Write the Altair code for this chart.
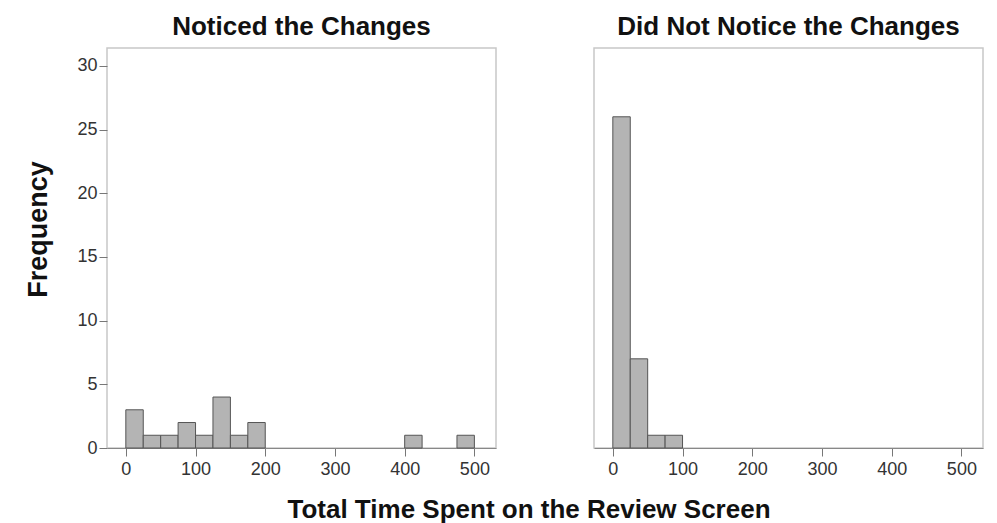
import altair as alt
import pandas as pd

bin_width = 25
noticed_bins = [0, 25, 50, 75, 100, 125, 150, 175, 400, 475]
noticed_counts = [3, 1, 1, 2, 1, 4, 1, 2, 1, 1]
not_noticed_bins = [0, 25, 50, 75]
not_noticed_counts = [26, 7, 1, 1]
x_ticks = [0, 100, 200, 300, 400, 500]
y_ticks = [0, 5, 10, 15, 20, 25, 30]
panel_titles = ["Noticed the Changes", "Did Not Notice the Changes"]
x_title = "Total Time Spent on the Review Screen"
y_title = "Frequency"

FONT = "Liberation Sans"
TITLE_SIZE = 26


def panel(bins, counts, title, show_y):
    df = pd.DataFrame({"start": bins, "count": counts})
    df["end"] = df["start"] + bin_width
    x_axis = alt.Axis(values=x_ticks, title=None, labelFontSize=18, labelColor="#333",
                      tickColor="#777", tickSize=8, domainColor="#888", labelPadding=4,
                      grid=False, labelFont=FONT, labelFlush=False)
    y_scale = alt.Scale(domain=[0, 31.4], nice=False, zero=True)
    if show_y:
        y_enc = alt.Y("count:Q", scale=y_scale,
                      axis=alt.Axis(values=y_ticks, title=y_title, labelFontSize=18, labelColor="#333",
                                    tickColor="#777", tickSize=8, domain=False, grid=False,
                                    titleFontSize=27, titleFont=FONT, titleFontWeight="bold",
                                    titleColor="#111", titlePadding=24, labelPadding=2,
                                    labelFont=FONT, titleY=181))
    else:
        y_enc = alt.Y("count:Q", scale=y_scale, axis=None)
    return alt.Chart(df).mark_bar(fill="#b4b4b4", stroke="#555", strokeWidth=1).encode(
        x=alt.X("start:Q", scale=alt.Scale(domain=[-27, 531], nice=False, zero=False), axis=x_axis),
        x2="end:Q",
        y=y_enc,
        y2=alt.datum(0),
    ).properties(
        width=389, height=400,
        title=alt.TitleParams(title, fontSize=TITLE_SIZE, font=FONT, fontWeight="bold", color="#111",
                              anchor="middle", frame="group", offset=8),
    )


left = panel(noticed_bins, noticed_counts, panel_titles[0], True)
right = panel(not_noticed_bins, not_noticed_counts, panel_titles[1], False)

chart = alt.hconcat(left, right, spacing=96).properties(
    title=alt.TitleParams(x_title, orient="bottom", anchor="middle", fontSize=TITLE_SIZE, font=FONT,
                          fontWeight="bold", color="#111", dx=25, offset=18),
    padding={"left": 16, "top": 5, "right": 5, "bottom": 2},
).configure_view(stroke="#c8c8c8", strokeWidth=1.5)

chart.save("out.html", embed_options={"renderer": "svg", "actions": False})
